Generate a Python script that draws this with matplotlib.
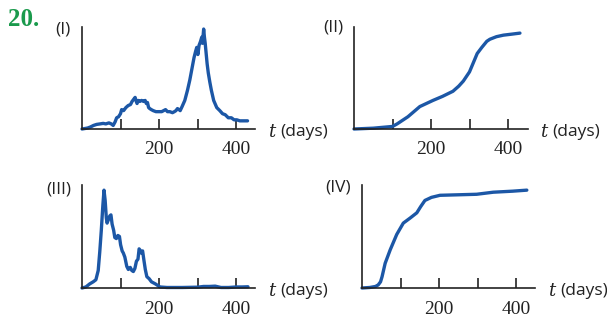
import matplotlib
matplotlib.use("Agg")
import matplotlib.pyplot as plt

W, H = 607, 320
BLUE = "#1c57a6"
GREEN = "#1a9a4c"

# Panel I data
t_I = [0, 8, 15, 22, 30, 38, 47, 55, 62, 70, 76, 81, 86, 90, 95, 100, 103, 108, 114, 120, 126, 130, 134, 138,
       141, 143, 146, 150, 155, 160, 164, 167, 170, 173, 176, 180, 185, 192, 200, 207, 212, 217, 222, 228, 235,
       240, 244, 248, 252, 255, 260, 267, 274, 280, 286, 291, 295, 298, 301, 304, 308, 311, 313, 316, 318, 320,
       322, 325, 328, 332, 336, 342, 350, 358, 365, 372, 380, 388, 395, 402, 410, 420, 430]
v_I = [0, 0.5, 1, 2, 3.5, 4.5, 5, 5.5, 5, 6, 5, 3.5, 7, 11, 12, 15, 19, 18, 21, 23, 24, 27, 29, 31,
       27, 25, 28, 27, 28, 27, 28, 25, 26, 21, 20, 19, 18, 17, 17, 17, 18, 19, 17, 17, 16,
       17, 18, 20, 19, 18, 22, 28, 38, 48, 60, 70, 76, 80, 73, 82, 86, 90, 84, 98, 90, 84,
       76, 64, 55, 46, 38, 28, 21, 18, 15, 14, 11, 11, 9, 9, 8, 8, 8]

# Panel II data
t_II = [0, 50, 100, 112, 140, 171, 205, 230, 257, 272, 284, 300, 310, 320, 332, 345, 353, 370, 388, 410, 431]
v_II = [0, 0.8, 2.5, 5, 12, 22, 28, 32, 37, 42, 47, 56, 65, 74, 80, 86, 88, 90.5, 92, 93, 94]

# Panel III data
t_III = [0, 10, 20, 29, 36, 42, 46, 50, 54, 57, 60, 63, 65, 68, 72, 75, 78, 82, 85, 89, 93, 97, 100, 104,
         107, 111, 116, 120, 125, 129, 133, 137, 141, 145, 148, 150, 153, 157, 160, 164, 168, 174, 180, 190,
         202, 220, 260, 300, 315, 330, 345, 360, 380, 400, 415, 430]
v_III = [0, 1, 4, 6, 8, 17, 35, 56, 80, 95, 85, 68, 63, 66, 70, 71, 62, 56, 49, 48, 51, 50, 42, 36,
         34, 30, 21, 18, 20, 17, 16, 19, 26, 28, 38, 37, 34, 36, 28, 18, 11, 9, 6, 4,
         1, 0.5, 0.5, 0.8, 1.5, 1.5, 1.8, 0.5, 0.5, 1, 1, 1.2]

# Panel IV data
t_IV = [0, 20, 35, 42, 48, 52, 60, 73, 90, 107, 125, 142, 152, 163, 180, 202, 250, 297, 340, 390, 427]
v_IV = [0, 0.5, 1.5, 3, 6, 11, 24, 37, 52, 63, 68, 73, 79, 85, 88, 90, 90.5, 91, 93, 94, 95]

ticks = [100, 200, 300, 400]
tick_labels = ["", "200", "", "400"]
panel_labels = ["(I)", "(II)", "(III)", "(IV)"]

fig = plt.figure(figsize=(W / 100, H / 100), dpi=100)


def px_axes(x0, x1, ytop, ybot):
    return fig.add_axes([x0 / W, 1 - ybot / H, (x1 - x0) / W, (ybot - ytop) / H])


def style(ax, xmax):
    ax.set_xlim(0, xmax)
    ax.set_ylim(0, 100)
    for s in ["top", "right"]:
        ax.spines[s].set_visible(False)
    for s in ["left", "bottom"]:
        ax.spines[s].set_linewidth(1.2)
        ax.spines[s].set_color("#222222")
    ax.set_yticks([])
    ax.set_xticks(ticks, tick_labels)
    ax.tick_params(axis="x", direction="in", length=7, width=1.2, pad=9, color="#222222")
    for lab in ax.get_xticklabels():
        lab.set_fontfamily("Liberation Serif")
        lab.set_fontsize(14)
        lab.set_color("#222222")
    ax.patch.set_alpha(0)


axes_specs = [
    (82, 255, 27, 129, 173 / 0.385, t_I, v_I),
    (354, 528, 27, 129, 174 / 0.385, t_II, v_II),
    (82, 255, 185, 288, 173 / 0.386, t_III, v_III),
    (362, 535, 185, 288, 173 / 0.386, t_IV, v_IV),
]

for (x0, x1, yt, yb, xmax, t, v) in axes_specs:
    ax = px_axes(x0, x1, yt, yb)
    style(ax, xmax)
    ax.plot(t, v, color=BLUE, lw=2.4, solid_capstyle="round", solid_joinstyle="round", clip_on=False)


def ftext(x, y, s, **kw):
    fig.text(x / W, 1 - y / H, s, **kw)


ftext(8, 26, "20.", color=GREEN, fontsize=18, fontweight="bold", fontfamily="Liberation Serif",
      ha="left", va="baseline")

label_pos = [(71, 29), (343, 27), (71, 189), (351, 187)]
for (x, y), s in zip(label_pos, panel_labels):
    ftext(x, y, s, fontsize=12.5, fontfamily="Open Sans", ha="right", va="center", color="#222222")

t_pos = [(268, 132), (540, 132), (268, 291), (548, 291)]
for (x, y) in t_pos:
    ftext(x, y, "t", fontsize=13, fontfamily="DejaVu Serif", fontstyle="italic", ha="left", va="center",
          color="#222222")
    ftext(x + 12, y, "(days)", fontsize=12.5, fontfamily="Open Sans", ha="left", va="center", color="#222222")

fig.savefig("out.png", dpi=100)
